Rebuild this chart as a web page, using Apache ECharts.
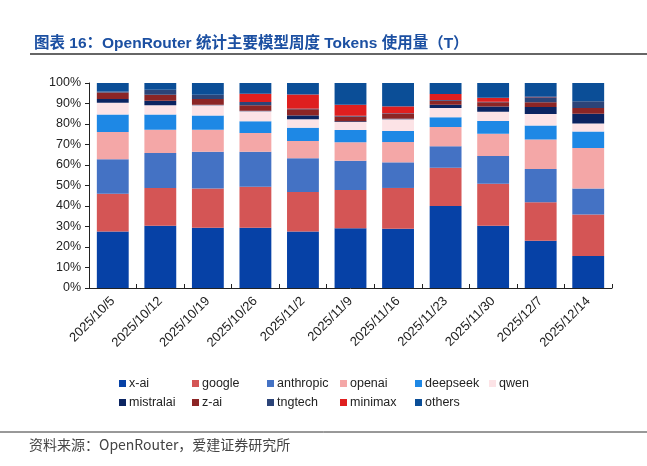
<!DOCTYPE html>
<html>
<head>
<meta charset="utf-8">
<script src="https://cdn.jsdelivr.net/npm/echarts@6/dist/echarts.min.js"></script>
<style>
  html, body { margin: 0; padding: 0; background: #fff; }
  #main { width: 647px; height: 466px; }
</style>
</head>
<body>
<div id="main"></div>
<script>
// weekly token share (%) by model vendor
var weeks = ['2025/10/5', '2025/10/12', '2025/10/19', '2025/10/26', '2025/11/2', '2025/11/9',
  '2025/11/16', '2025/11/23', '2025/11/30', '2025/12/7', '2025/12/14'];

var xai       = [27.6, 30.4, 29.4, 29.4, 27.6, 29.1, 28.9, 40.0, 30.4, 23.1, 15.6];
var google    = [18.4, 18.4, 19.1, 20.0, 19.2, 18.7, 19.9, 18.7, 20.5, 18.7, 20.3];
var anthropic = [16.8, 17.1, 18.0, 17.1, 16.5, 14.3, 12.5, 10.4, 13.5, 16.2, 12.6];
var openai    = [13.3, 11.3, 10.7, 9.1, 8.4, 9.0, 9.9, 9.4, 10.9, 14.5, 19.8];
var deepseek  = [8.5, 7.4, 6.9, 5.7, 6.5, 6.0, 5.4, 4.8, 6.2, 6.8, 8.1];
var qwen      = [5.8, 4.5, 5.0, 4.9, 4.1, 3.9, 5.7, 4.5, 4.5, 5.6, 3.9];
var mistralai = [1.8, 2.3, 0.3, 0.3, 1.9, 0.3, 0.3, 1.6, 2.5, 3.4, 4.7];
var zai       = [3.2, 2.9, 2.8, 2.6, 3.0, 2.4, 2.3, 2.0, 2.1, 2.3, 2.8];
var tngtech   = [0.5, 2.4, 2.1, 1.6, 0.3, 0.3, 0.3, 0.3, 0.3, 2.4, 3.3];
var minimax   = [0, 0, 0, 4.1, 6.9, 5.4, 3.4, 2.9, 1.9, 0.3, 0];
var others    = [4.1, 3.3, 5.7, 5.2, 5.6, 10.6, 11.4, 5.4, 7.2, 6.7, 8.9];

var yTicks = ['0%', '10%', '20%', '30%', '40%', '50%', '60%', '70%', '80%', '90%', '100%'];

var seriesDefs = [
  ['x-ai', xai, '#0641A6'],
  ['google', google, '#D45555'],
  ['anthropic', anthropic, '#4472C4'],
  ['openai', openai, '#F4A7A7'],
  ['deepseek', deepseek, '#1E88E5'],
  ['qwen', qwen, '#FCE3E6'],
  ['mistralai', mistralai, '#0B2461'],
  ['z-ai', zai, '#8C2525'],
  ['tngtech', tngtech, '#2C4478'],
  ['minimax', minimax, '#DF1F1F'],
  ['others', others, '#0B4E97']
];

var chart = echarts.init(document.getElementById('main'));

var series = seriesDefs.map(function (d) {
  return {
    name: d[0],
    type: 'bar',
    stack: 'total',
    barWidth: '67%',
    data: d[1],
    itemStyle: { color: d[2] }
  };
});

// legend laid out in columns: two rows of six
var legendCols = [
  ['x-ai', 'mistralai'], ['google', 'z-ai'], ['anthropic', 'tngtech'],
  ['openai', 'minimax'], ['deepseek', 'others'], ['qwen']
];
var legendLeft = [114, 187, 262, 335, 410, 484];
var legends = legendCols.map(function (col, i) {
  return {
    data: col,
    orient: 'vertical',
    left: legendLeft[i],
    top: 372,
    itemGap: 6,
    itemWidth: 7,
    itemHeight: 7,
    icon: 'rect',
    selectedMode: false,
    textStyle: { fontSize: 12.5, color: '#222', fontFamily: 'Liberation Sans, Arial', padding: [0, 0, 0, -2] }
  };
});

var option = {
  animation: false,
  backgroundColor: '#fff',
  title: {
    text: '图表 16：OpenRouter 统计主要模型周度 Tokens 使用量（T）',
    left: 29,
    top: 31,
    textStyle: {
      fontSize: 15.5,
      fontWeight: 'bold',
      color: '#1C50A2',
      fontFamily: 'Liberation Sans, Noto Sans CJK SC'
    }
  },
  graphic: [
    { type: 'line', shape: { x1: 30, y1: 54, x2: 647, y2: 54 }, style: { stroke: '#333', lineWidth: 1.5 } },
    { type: 'line', shape: { x1: 0, y1: 432, x2: 647, y2: 432 }, style: { stroke: '#333', lineWidth: 1 } },
    {
      type: 'text', left: 29, top: 438,
      style: { text: '资料来源：OpenRouter，爱建证券研究所', fontSize: 14, fill: '#444', fontFamily: 'Noto Sans CJK SC' }
    }
  ],
  legend: legends,
  grid: { left: 89, right: 35, top: 83, bottom: 178 },
  xAxis: {
    type: 'category',
    data: weeks,
    axisLine: { lineStyle: { color: '#222', width: 1 } },
    axisTick: { show: true, length: 4, inside: true, lineStyle: { color: '#222' } },
    axisLabel: {
      rotate: 45,
      margin: 11,
      fontSize: 13,
      color: '#222',
      fontFamily: 'Liberation Sans, Arial'
    }
  },
  yAxis: {
    type: 'value',
    min: 0,
    max: 100,
    interval: 10,
    axisLine: { show: true, lineStyle: { color: '#222' } },
    axisTick: { show: true, length: 4, lineStyle: { color: '#222' } },
    splitLine: { show: false },
    axisLabel: {
      fontSize: 12.5,
      color: '#222',
      margin: 8,
      fontFamily: 'Liberation Sans, Arial',
      formatter: function (v) { return yTicks[Math.round(v / 10)]; }
    }
  },
  series: series
};

chart.setOption(option);
</script>
</body>
</html>
